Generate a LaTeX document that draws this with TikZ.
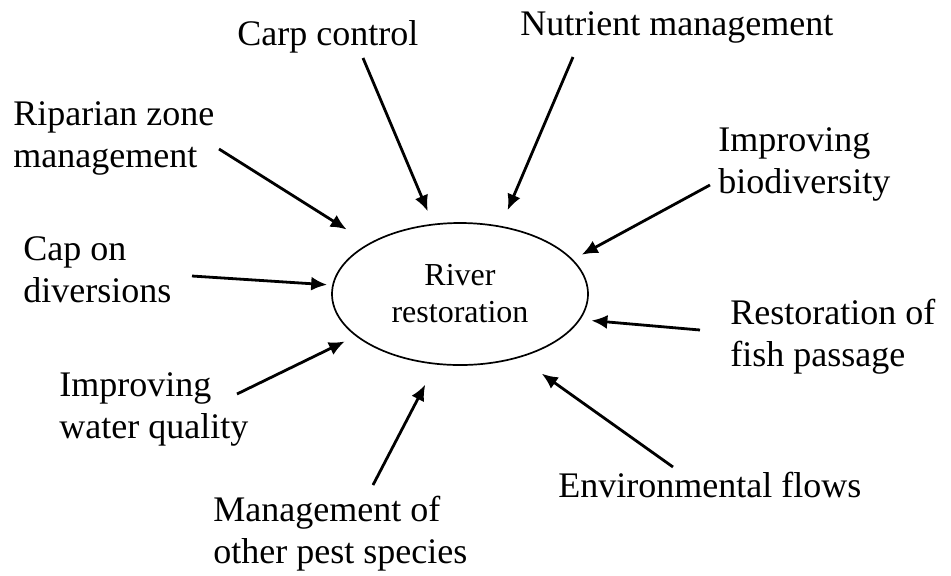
\documentclass[tikz,border=0pt]{standalone}
\usepackage{fontspec}
\setmainfont{Liberation Serif}
\usetikzlibrary{shapes.geometric,arrows.meta}
\tikzstyle{factor} = [inner sep=0pt, anchor=base west, align=left,
    font=\fontsize{18}{21}\selectfont]
\tikzstyle{goal} = [ellipse, draw, line width=0.85pt, inner sep=0pt,
    minimum width=128pt, minimum height=71pt, align=center,
    font=\fontsize{16}{18.5}\selectfont]
\tikzstyle{arrow} = [draw, line width=1.4pt, -{Latex[length=8pt,width=7pt]}]

\begin{document}
\begin{tikzpicture}[x=0.5pt, y=-0.5pt]
    \useasboundingbox (0,0) rectangle (951,575);
    \node[goal] (river) at (460,294) {River\\restoration};

    % two-line nodes sit on their last baseline
    \node[factor] (carp) at (237,45) {Carp control};
    \node[factor] (nutrient) at (520,35) {Nutrient management};
    \node[factor] (riparian) at (13,167) {Riparian zone\\management};
    \node[factor] (biodiv) at (718,193) {Improving\\biodiversity};
    \node[factor] (capdiv) at (23,302) {Cap on\\diversions};
    \node[factor] (fish) at (730,366) {Restoration of\\fish passage};
    \node[factor] (water) at (59,438) {Improving\\water quality};
    \node[factor] (pest) at (213,563) {Management of\\other pest species};
    \node[factor] (flows) at (558,497) {Environmental flows};

    \draw[arrow, shorten >=6.75pt] ([shift={(126,13)}]carp.base west) -- (river.111);
    \draw[arrow, shorten >=8.5pt] ([shift={(53,22)}]nutrient.base west) -- (river.59);
    \draw[arrow, shorten >=13pt] ([shift={(206,-18)}]riparian.base west) -- (river.151);
    \draw[arrow, shorten >=5pt] ([shift={(-8,-8)}]biodiv.base west) -- (river.17);
    \draw[arrow, shorten >=2.5pt] ([shift={(169,-26)}]capdiv.base west) -- (river.176);
    \draw[arrow, shorten >=5.5pt] ([shift={(-30,-36)}]fish.base west) -- (river.348);
    \draw[arrow, shorten >=6pt] ([shift={(178,-44)}]water.base west) -- (river.202);
    \draw[arrow, shorten >=11.3pt] ([shift={(160,-78)}]pest.base west) -- (river.251);
    \draw[arrow, shorten >=13.7pt] ([shift={(115,-30)}]flows.base west) -- (river.313);
\end{tikzpicture}
\end{document}
